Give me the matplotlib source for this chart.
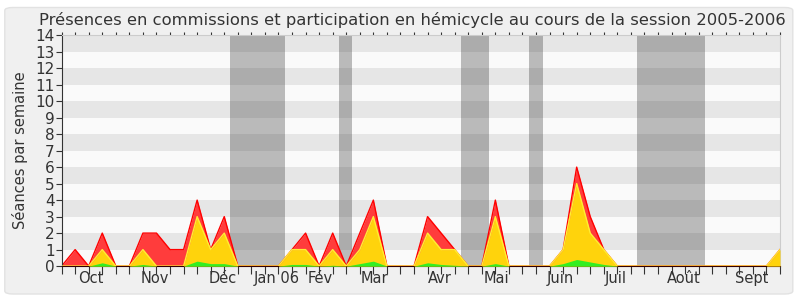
import matplotlib.pyplot as plt
import numpy as np
from matplotlib.patches import FancyBboxPatch

# weekly values, session 2005-2006 (54 weeks)
commission = [0, 1, 0, 2, 0, 0, 2, 2, 1, 1, 4, 1, 3, 0, 0, 0, 0, 1, 2, 0,
              2, 0, 2, 4, 0, 0, 0, 3, 2, 1, 0, 0, 4, 0, 0, 0, 0, 1, 6, 3,
              1, 0, 0, 0, 0, 0, 0, 0, 0, 0, 0, 0, 0, 1]
hemicycle = [0, 0, 0, 1, 0, 0, 1, 0, 0, 0, 3, 1, 2, 0, 0, 0, 0, 1, 1, 0,
             1, 0, 1, 3, 0, 0, 0, 2, 1, 1, 0, 0, 3, 0, 0, 0, 0, 1, 5, 2,
             1, 0, 0, 0, 0, 0, 0, 0, 0, 0, 0, 0, 0, 1]
interventions = [0, 0, 0, 0.2, 0, 0, 0.1, 0, 0, 0, 0.3, 0.15, 0.15, 0, 0, 0, 0, 0.1, 0.1, 0,
                 0.05, 0, 0.15, 0.3, 0, 0, 0, 0.2, 0.1, 0.05, 0, 0, 0.15, 0, 0, 0, 0, 0.15, 0.4, 0.25,
                 0.1, 0, 0, 0, 0, 0, 0, 0, 0, 0, 0, 0, 0, 0]

months = ['Oct', 'Nov', 'Déc', 'Jan 06', 'Fév', 'Mar', 'Avr', 'Mai', 'Juin', 'Juil', 'Août', 'Sept']
month_pos = [2.14, 6.87, 11.9, 15.9, 19.1, 23.1, 27.9, 32.1, 36.8, 40.9, 45.9, 50.9]

# vacation periods (week index start, end)
vacances = [(12.45, 16.45), (20.45, 21.45), (29.45, 31.5), (34.45, 35.5), (42.45, 47.5)]

weeks = np.arange(len(commission))

fig = plt.figure(figsize=(8, 3), dpi=100)
fig.patch.set_facecolor('white')
bg = FancyBboxPatch((0.006, 0.02), 0.985, 0.955, boxstyle='round,pad=0,rounding_size=0.01',
                    transform=fig.transFigure, facecolor='#f0f0f0', edgecolor='#e2e2e2', lw=1, zorder=-10)
fig.patches.append(bg)

ax = fig.add_axes([0.077, 0.113, 0.898, 0.77])
ax.set_facecolor('#fafafa')
for y0 in range(1, 14, 2):
    ax.axhspan(y0, y0 + 1, color='#e6e6e6', lw=0, zorder=0)
for a, b in vacances:
    ax.axvspan(a, b, color='#282828', alpha=0.3, lw=0, zorder=1)

ax.fill_between(weeks, commission, color='#ff3c3c', lw=0, zorder=2)
ax.plot(weeks, commission, color='#ff0000', lw=1, zorder=2)
ax.fill_between(weeks, hemicycle, color='#ffd30c', lw=0, zorder=3)
ax.plot(weeks, hemicycle, color='#ffee33', lw=1, zorder=3)
ax.fill_between(weeks, interventions, color='#33ee22', lw=0, zorder=4)

ax.set_xlim(0, len(commission) - 1)
ax.set_ylim(0, 14)
ax.set_yticks(range(0, 15))
ax.tick_params(axis='y', labelsize=11, length=4, color='#333333', labelcolor='#333333', pad=1)
ax.set_xticks(weeks)
ax.set_xticklabels([])
ax.tick_params(axis='x', length=6, color='#333333', direction='out', top=True)
for m, p in zip(months, month_pos):
    ax.text(p, -0.3, m, ha='center', va='top', fontsize=10.5, color='#333333')
# small dotted ticks on the top spine
for t in ax.xaxis.get_major_ticks():
    t.tick2line.set_markersize(2)
    t.tick2line.set_color('#555555')

for s in ['top', 'right']:
    ax.spines[s].set_color('#cccccc')
ax.spines['left'].set_color('#333333')
ax.spines['bottom'].set_color('#330000')

ax.set_ylabel('Séances par semaine', fontsize=10.5, color='#333333', labelpad=5)
fig.text(0.515, 0.935, 'Présences en commissions et participation en hémicycle au cours de la session 2005-2006',
         ha='center', va='center', fontsize=11.8, color='#333333')

fig.savefig('out.png', dpi=100, facecolor=fig.get_facecolor())
